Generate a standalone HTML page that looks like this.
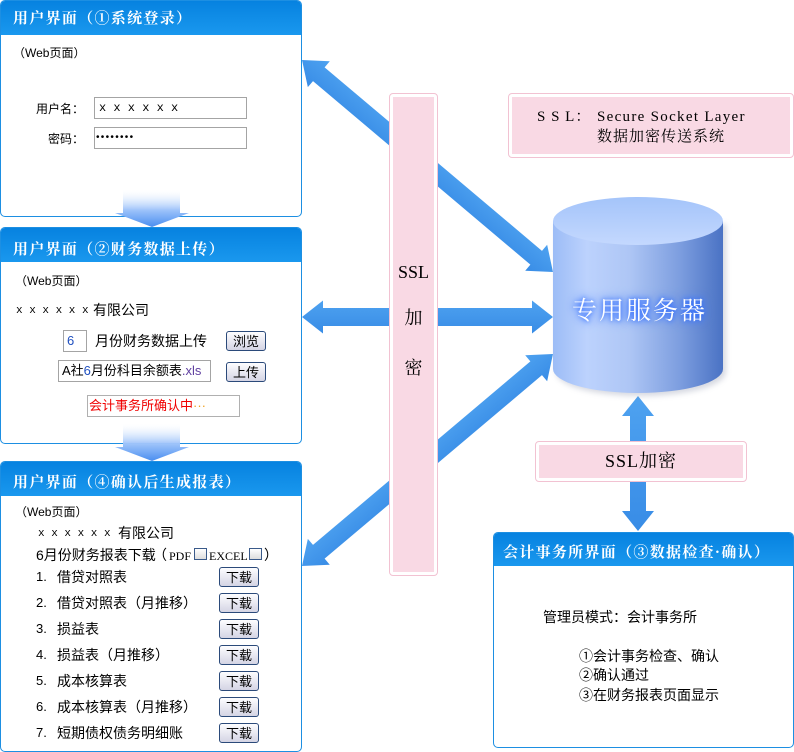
<!DOCTYPE html>
<html><head><meta charset="utf-8">
<style>
*{margin:0;padding:0;box-sizing:border-box}
body{width:794px;height:752px;background:#fff;position:relative;overflow:hidden;font-family:"Liberation Sans","Noto Sans CJK SC",sans-serif;color:#000}
.p{position:absolute;border:1px solid #1d8fe2;border-radius:5px;background:#fff;overflow:hidden;z-index:2}
.h{position:absolute;left:0;top:0;right:0;height:34px;background:linear-gradient(#0682e0,#1a98ee)}
.t{position:absolute;white-space:nowrap;line-height:16px}
.ht{position:absolute;white-space:nowrap;color:#fff;font-family:"Noto Serif CJK SC","Noto Sans CJK SC",serif;font-size:15px;letter-spacing:1.3px;line-height:20px;font-weight:bold;z-index:3}
.in{position:absolute;border:1px solid #a4a4a4;background:#fff;z-index:3}
.bt{position:absolute;border:1px solid #2b4a7a;border-radius:3px;background:linear-gradient(#fdfdff,#d4d4e4);font-size:13px;text-align:center;line-height:17px;z-index:3;font-family:"Noto Sans CJK SC",sans-serif}
.z{z-index:3}
.pk{position:absolute;border:1px solid #f2c2d2;border-radius:4px;background:#fff;z-index:2}
.pk>div.f{position:absolute;left:3px;top:3px;right:3px;bottom:3px;background:#f9d9e4}
.sr{font-family:"Liberation Serif","Noto Serif CJK SC",serif}
.mx{font-family:"Liberation Mono",monospace;font-size:11px}
.cb{position:absolute;width:13px;height:12px;border:1px solid #3a5a8a;background:linear-gradient(#fff,#ddd);z-index:3}
</style></head><body>

<svg width="794" height="752" style="position:absolute;left:0;top:0;z-index:1">
<defs>
<linearGradient id="ag" x1="0" y1="0" x2="0" y2="1"><stop offset="0" stop-color="#4ea2f0"/><stop offset="1" stop-color="#388ce6"/></linearGradient>
<linearGradient id="bg" x1="0" y1="0" x2="1" y2="0">
<stop offset="0" stop-color="#9cbcf6"/><stop offset="0.2" stop-color="#bcd2fd"/><stop offset="0.45" stop-color="#aec6f5"/><stop offset="0.75" stop-color="#7c9ddf"/><stop offset="1" stop-color="#4a72c4"/></linearGradient>
<linearGradient id="tg" x1="0" y1="0" x2="0" y2="1"><stop offset="0" stop-color="#a4c4fa"/><stop offset="1" stop-color="#c4d8fe"/></linearGradient>
<filter id="sh" x="-20%" y="-20%" width="140%" height="140%"><feGaussianBlur stdDeviation="3"/></filter>
</defs>
<g transform="translate(302,60) rotate(40.18)"><polygon fill="url(#ag)" points="0,0 22,-17 22,-9 306.5,-9 306.5,-17 328.5,0 306.5,17 306.5,9 22,9 22,17"/></g>
<polygon fill="url(#ag)" points="302,317 323,300.5 323,308 532,308 532,300.5 553,317 532,333.5 532,326 323,326 323,333.5"/>
<g transform="translate(302,566) rotate(-40.18)"><polygon fill="url(#ag)" points="0,0 22,-17 22,-9 306.5,-9 306.5,-17 328.5,0 306.5,17 306.5,9 22,9 22,17"/></g>
<polygon fill="url(#ag)" points="638,396 654,416 646,416 646,511 654,511 638,531 622,511 630,511 630,416 622,416"/>
<path d="M556,224 L556,372 A85,24 0 0 0 726,372 L726,224 Z" fill="#8890a8" opacity="0.35" filter="url(#sh)"/>
<path d="M553,221 L553,369 A85,24 0 0 0 723,369 L723,221 Z" fill="url(#bg)"/>
<ellipse cx="638" cy="221" rx="85" ry="24" fill="url(#tg)"/>
</svg>

<div class="t z" style="left:572px;top:294px;font-size:25px;line-height:30px;color:#fff;letter-spacing:2px;font-family:'Noto Serif CJK SC',serif;text-shadow:0 0 4px #2f6cff,0 0 8px #2f6cff,0 0 12px #5a8cff">专用服务器</div>

<!-- Panel 1 -->
<div class="p" style="left:0;top:0;width:302px;height:217px"><div class="h"></div></div>
<div class="ht" style="left:13px;top:8px">用户界面（①系统登录）</div>
<div class="t z" style="left:13px;top:45px;font-size:12px">（Web页面）</div>
<div class="t z" style="left:36px;top:101px;font-size:12px">用户名：</div>
<div class="t z" style="left:48px;top:131px;font-size:12px">密码：</div>
<div class="in" style="left:94px;top:97px;width:153px;height:22px"></div>
<div class="t z mx" style="left:99px;top:100px;font-size:12px">x x x x x x</div>
<div class="in" style="left:94px;top:127px;width:153px;height:22px"></div>
<div class="t z" style="left:96px;top:130px;font-size:10px;letter-spacing:1.3px">••••••••</div>

<!-- Panel 2 -->
<div class="p" style="left:0;top:227px;width:302px;height:217px"><div class="h"></div></div>
<div class="ht" style="left:13px;top:239px">用户界面（②财务数据上传）</div>
<div class="t z" style="left:15px;top:273px;font-size:12px">（Web页面）</div>
<div class="t z mx" style="left:16px;top:303px">x x x x x x</div>
<div class="t z" style="left:93px;top:302px;font-size:14px">有限公司</div>
<div class="in" style="left:63px;top:330px;width:24px;height:22px"></div>
<div class="t z" style="left:67px;top:333px;font-size:13px;color:#2050c0">6</div>
<div class="t z" style="left:95px;top:333px;font-size:14px">月份财务数据上传</div>
<div class="bt" style="left:226px;top:331px;width:40px;height:20px">浏览</div>
<div class="in" style="left:58px;top:360px;width:153px;height:22px"></div>
<div class="t z" style="left:62px;top:363px;font-size:13px">A社<span style="color:#2050c0">6</span>月份科目余额表<span style="color:#6040a0">.xls</span></div>
<div class="bt" style="left:226px;top:362px;width:40px;height:20px">上传</div>
<div class="in" style="left:87px;top:395px;width:153px;height:22px;border-color:#b0b0b0"></div>
<div class="t z" style="left:89px;top:398px;font-size:13px;color:#f00000">会计事务所确认中<span style="color:#f0a020">···</span></div>

<!-- Panel 3 -->
<div class="p" style="left:0;top:461px;width:302px;height:291px"><div class="h"></div></div>
<div class="ht" style="left:13px;top:472px">用户界面（④确认后生成报表）</div>
<div class="t z" style="left:15px;top:504px;font-size:12px">（Web页面）</div>
<div class="t z mx" style="left:38px;top:526px">x x x x x x</div>
<div class="t z" style="left:118px;top:525px;font-size:14px">有限公司</div>
<div class="t z" style="left:36px;top:547px;font-size:14px">6月份财务报表下载</div>
<div class="t z" style="left:153px;top:547px;font-size:14px">（</div>
<div class="t z sr" style="left:169px;top:548px;font-size:12px">PDF</div>
<div class="cb" style="left:194px;top:548px"></div>
<div class="t z sr" style="left:209px;top:548px;font-size:12px">EXCEL</div>
<div class="cb" style="left:249px;top:548px"></div>
<div class="t z" style="left:264px;top:547px;font-size:14px">）</div>

<div class="t z" style="left:36px;top:569px;font-size:13px">1.</div><div class="t z" style="left:57px;top:569px;font-size:14px">借贷对照表</div><div class="bt" style="left:219px;top:567px;width:40px;height:20px">下载</div>
<div class="t z" style="left:36px;top:595px;font-size:13px">2.</div><div class="t z" style="left:57px;top:595px;font-size:14px">借贷对照表（月推移）</div><div class="bt" style="left:219px;top:593px;width:40px;height:20px">下载</div>
<div class="t z" style="left:36px;top:621px;font-size:13px">3.</div><div class="t z" style="left:57px;top:621px;font-size:14px">损益表</div><div class="bt" style="left:219px;top:619px;width:40px;height:20px">下载</div>
<div class="t z" style="left:36px;top:647px;font-size:13px">4.</div><div class="t z" style="left:57px;top:647px;font-size:14px">损益表（月推移）</div><div class="bt" style="left:219px;top:645px;width:40px;height:20px">下载</div>
<div class="t z" style="left:36px;top:673px;font-size:13px">5.</div><div class="t z" style="left:57px;top:673px;font-size:14px">成本核算表</div><div class="bt" style="left:219px;top:671px;width:40px;height:20px">下载</div>
<div class="t z" style="left:36px;top:699px;font-size:13px">6.</div><div class="t z" style="left:57px;top:699px;font-size:14px">成本核算表（月推移）</div><div class="bt" style="left:219px;top:697px;width:40px;height:20px">下载</div>
<div class="t z" style="left:36px;top:725px;font-size:13px">7.</div><div class="t z" style="left:57px;top:725px;font-size:14px">短期债权债务明细账</div><div class="bt" style="left:219px;top:723px;width:40px;height:20px">下载</div>

<!-- Panel 4 -->
<div class="p" style="left:493px;top:532px;width:301px;height:216px"><div class="h" style="height:33px"></div></div>
<div class="ht" style="left:503px;top:542px">会计事务所界面（③数据检查·确认）</div>
<div class="t z" style="left:543px;top:609px;font-size:14px">管理员模式：会计事务所</div>
<div class="t z" style="left:579px;top:648px;font-size:14px">①会计事务检查、确认</div>
<div class="t z" style="left:579px;top:667px;font-size:14px">②确认通过</div>
<div class="t z" style="left:579px;top:687px;font-size:14px">③在财务报表页面显示</div>

<!-- SSL vertical bar -->
<div class="pk" style="left:389px;top:93px;width:49px;height:483px"><div class="f"></div></div>
<div class="t z sr" style="left:389px;width:49px;text-align:center;top:261px;font-size:18px;line-height:22px">SSL</div>
<div class="t z sr" style="left:389px;width:49px;text-align:center;top:307px;font-size:18px;line-height:22px">加</div>
<div class="t z sr" style="left:389px;width:49px;text-align:center;top:357px;font-size:18px;line-height:22px">密</div>

<!-- SSL note -->
<div class="pk" style="left:508px;top:93px;width:286px;height:65px"><div class="f"></div></div>
<div class="t z sr" style="left:537px;top:108px;font-size:15px;line-height:18px;letter-spacing:1px">S S L：</div>
<div class="t z sr" style="left:597px;top:108px;font-size:15px;line-height:18px;letter-spacing:1.3px">Secure Socket Layer</div>
<div class="t z sr" style="left:597px;top:128px;font-size:15px;line-height:18px;letter-spacing:1px">数据加密传送系统</div>

<!-- SSL加密 box -->
<div class="pk" style="left:535px;top:441px;width:212px;height:41px"><div class="f"></div></div>
<div class="t z sr" style="left:535px;width:212px;text-align:center;top:450px;font-size:18px;line-height:22px;letter-spacing:1px">SSL加密</div>

<!-- down arrows -->
<svg width="794" height="752" style="position:absolute;left:0;top:0;z-index:5;pointer-events:none">
<defs>
<linearGradient id="dg" x1="0" y1="0" x2="0" y2="1"><stop offset="0" stop-color="#ffffff" stop-opacity="0.2"/><stop offset="0.55" stop-color="#9cc2fa"/><stop offset="1" stop-color="#4a8ef0"/></linearGradient>
</defs>
<polygon fill="url(#dg)" points="123,190 180,190 180,213 189,213 152,227 115,213 123,213"/>
<polygon fill="url(#dg)" points="123,424 180,424 180,447 189,447 152,461 115,447 123,447"/>
</svg>
</body></html>
